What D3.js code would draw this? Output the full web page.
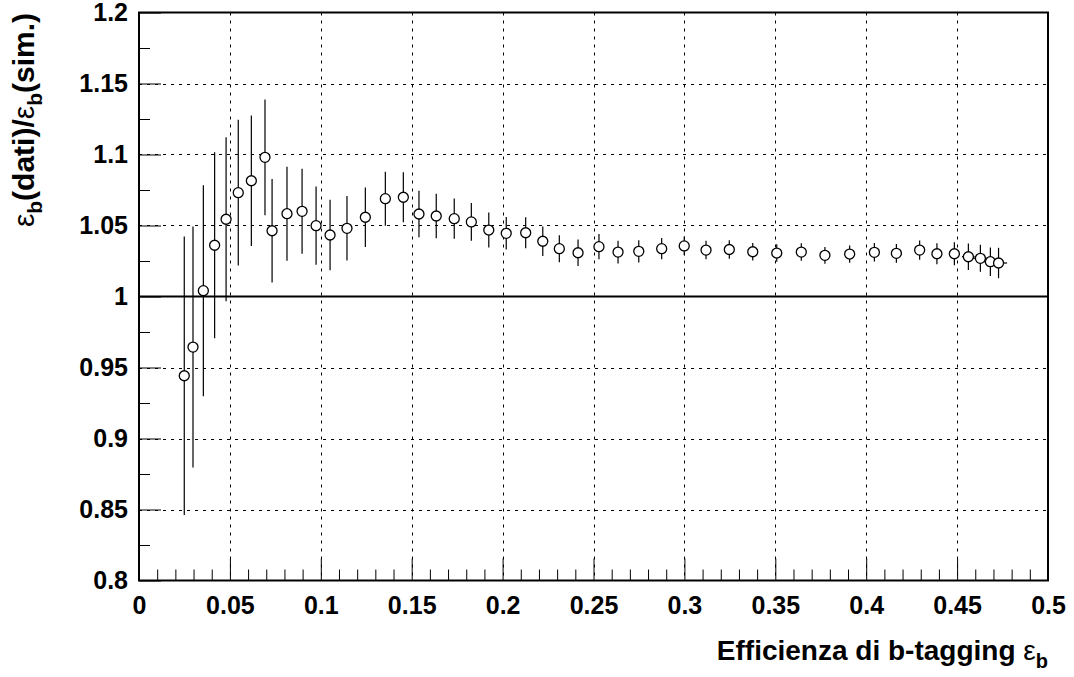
<!DOCTYPE html>
<html><head><meta charset="utf-8">
<script src="https://cdn.jsdelivr.net/npm/d3@7"></script>
<style>body{margin:0;background:#fff}svg{display:block}</style>
</head><body>
<svg id="c" width="1074" height="677"></svg>
<script>
// ---- data ----
const effB = [0.0249,0.0297,0.0354,0.0416,0.0479,0.0546,0.0618,0.0693,0.0732,0.0814,
  0.0897,0.0974,0.1051,0.1144,0.1245,0.1355,0.1454,0.1540,0.1635,0.1734,
  0.1828,0.1924,0.2020,0.2127,0.2221,0.2312,0.2415,0.2530,0.2635,0.2749,
  0.2875,0.2999,0.3119,0.3247,0.3376,0.3508,0.3643,0.3773,0.3909,0.4045,
  0.4166,0.4294,0.4389,0.4485,0.4562,0.4628,0.4683,0.4728];
const ratio = [0.9442,0.9644,1.0041,1.0361,1.0544,1.0731,1.0815,1.0980,1.0463,1.0583,
  1.0600,1.0499,1.0433,1.0480,1.0558,1.0689,1.0699,1.0581,1.0567,1.0548,
  1.0525,1.0468,1.0445,1.0449,1.0389,1.0337,1.0308,1.0351,1.0313,1.0318,
  1.0337,1.0356,1.0327,1.0331,1.0315,1.0306,1.0313,1.0290,1.0299,1.0311,
  1.0304,1.0327,1.0301,1.0301,1.0280,1.0269,1.0245,1.0236];
const errY = [0.0980,0.0849,0.0743,0.0655,0.0577,0.0513,0.0459,0.0408,0.0365,0.0331,
  0.0299,0.0275,0.0249,0.0227,0.0209,0.0190,0.0176,0.0164,0.0156,0.0142,
  0.0133,0.0123,0.0114,0.0109,0.0104,0.0095,0.0094,0.0089,0.0080,0.0079,
  0.0075,0.0066,0.0065,0.0065,0.0061,0.0062,0.0062,0.0059,0.0061,0.0065,
  0.0066,0.0068,0.0074,0.0081,0.0093,0.0095,0.0100,0.0107];
const errX = [0.002,0.002,0.002,0.002,0.002,0.002,0.002,0.002,0.002,0.002,
  0.002,0.002,0.002,0.002,0.002,0.002,0.002,0.002,0.002,0.002,
  0.002,0.002,0.002,0.002,0.002,0.002,0.002,0.002,0.002,0.002,
  0.002,0.002,0.002,0.002,0.002,0.002,0.002,0.002,0.002,0.002,
  0.002,0.002,0.002,0.003,0.0035,0.004,0.0045,0.0047];
const xTicks = [0,0.05,0.1,0.15,0.2,0.25,0.3,0.35,0.4,0.45,0.5];
const xTickLabels = ["0","0.05","0.1","0.15","0.2","0.25","0.3","0.35","0.4","0.45","0.5"];
const yTicks = [0.8,0.85,0.9,0.95,1,1.05,1.1,1.15,1.2];
const yTickLabels = ["0.8","0.85","0.9","0.95","1","1.05","1.1","1.15","1.2"];
const refLine = 1;

// ---- layout ----
const L = 139, R = 1048, T = 12.5, B = 580.5;
const FONT = "'Liberation Sans', Arial, Helvetica, sans-serif";
const svg = d3.select("#c");
const x = d3.scaleLinear().domain([0, 0.5]).range([L, R]);
const y = d3.scaleLinear().domain([0.8, 1.2]).range([B, T]);

const xMinor = d3.range(0, 51).map(i => i / 100).filter(v => Math.round(v * 100) % 5 !== 0);
const yMinor = d3.range(0, 8).map(i => 0.825 + i * 0.05);

// grid
const grid = svg.append("g").attr("stroke", "#000").attr("stroke-width", 1)
  .attr("stroke-dasharray", "3,5");
grid.selectAll(".gx").data(xTicks.slice(1, -1)).join("line")
  .attr("x1", d => Math.round(x(d)) + 0.5).attr("x2", d => Math.round(x(d)) + 0.5)
  .attr("y1", T).attr("y2", B);
grid.selectAll(".gy").data(yTicks.slice(1, -1).filter(v => v !== refLine)).join("line")
  .attr("y1", d => Math.round(y(d)) + 0.5).attr("y2", d => Math.round(y(d)) + 0.5)
  .attr("x1", L).attr("x2", R);

// axes
const fmtX = (d) => xTickLabels[xTicks.indexOf(d)];
const fmtY = (d) => yTickLabels[yTicks.indexOf(d)];
const gxMaj = svg.append("g").attr("transform", `translate(0,${B})`)
  .call(d3.axisBottom(x).tickValues(xTicks).tickSize(-22).tickPadding(16).tickFormat(fmtX));
const gxMin = svg.append("g").attr("transform", `translate(0,${B})`)
  .call(d3.axisBottom(x).tickValues(xMinor).tickSize(-11).tickFormat(""));
const gyMaj = svg.append("g").attr("transform", `translate(${L},0)`)
  .call(d3.axisLeft(y).tickValues(yTicks).tickSize(-22).tickPadding(11).tickFormat(fmtY));
const gyMin = svg.append("g").attr("transform", `translate(${L},0)`)
  .call(d3.axisLeft(y).tickValues(yMinor).tickSize(-11).tickFormat(""));
[gxMaj, gxMin, gyMaj, gyMin].forEach(g => {
  g.select(".domain").remove();
  g.selectAll(".tick line").attr("stroke", "#000").attr("stroke-width", 1);
  g.selectAll("text").attr("font-family", FONT).attr("font-weight", "bold")
    .attr("font-size", 25).attr("fill", "#000");
});

// reference line at 1
svg.append("line").attr("x1", L).attr("x2", R)
  .attr("y1", y(refLine)).attr("y2", y(refLine))
  .attr("stroke", "#000").attr("stroke-width", 2);

// frame
svg.append("rect").attr("x", L).attr("y", T).attr("width", R - L).attr("height", B - T)
  .attr("fill", "none").attr("stroke", "#000").attr("stroke-width", 2);

// data
const pts = effB.map((v, i) => ({x: v, y: ratio[i], ey: errY[i], ex: errX[i]}));
const gp = svg.append("g");
gp.selectAll(".ev").data(pts).join("line")
  .attr("x1", d => x(d.x)).attr("x2", d => x(d.x))
  .attr("y1", d => y(d.y + d.ey)).attr("y2", d => y(d.y - d.ey))
  .attr("stroke", "#000").attr("stroke-width", 1.2);
gp.selectAll(".eh").data(pts).join("line")
  .attr("x1", d => x(d.x - d.ex)).attr("x2", d => x(d.x + d.ex))
  .attr("y1", d => y(d.y)).attr("y2", d => y(d.y))
  .attr("stroke", "#000").attr("stroke-width", 1.2);
gp.selectAll("circle").data(pts).join("circle")
  .attr("cx", d => x(d.x)).attr("cy", d => y(d.y)).attr("r", 5)
  .attr("fill", "#fff").attr("stroke", "#000").attr("stroke-width", 1.3);

// axis titles
const xt = svg.append("text").attr("x", R).attr("y", 660).attr("text-anchor", "end")
  .attr("font-family", FONT).attr("font-weight", "bold").attr("font-size", 28).attr("fill", "#000");
xt.append("tspan").text("Efficienza di b-tagging ");
xt.append("tspan").attr("font-weight", "normal").text("ε");
xt.append("tspan").attr("font-size", 20).attr("dy", 8).text("b");

const yt = svg.append("text").attr("transform", `translate(34,13) rotate(-90)`)
  .attr("text-anchor", "end")
  .attr("font-family", FONT).attr("font-weight", "bold").attr("font-size", 30).attr("fill", "#000");
yt.append("tspan").attr("font-weight", "normal").text("ε");
yt.append("tspan").attr("font-size", 21).attr("dy", 8).text("b");
yt.append("tspan").attr("dy", -8).text("(dati)/");
yt.append("tspan").attr("font-weight", "normal").text("ε");
yt.append("tspan").attr("font-size", 21).attr("dy", 8).text("b");
yt.append("tspan").attr("dy", -8).text("(sim.)");
</script>
</body></html>
